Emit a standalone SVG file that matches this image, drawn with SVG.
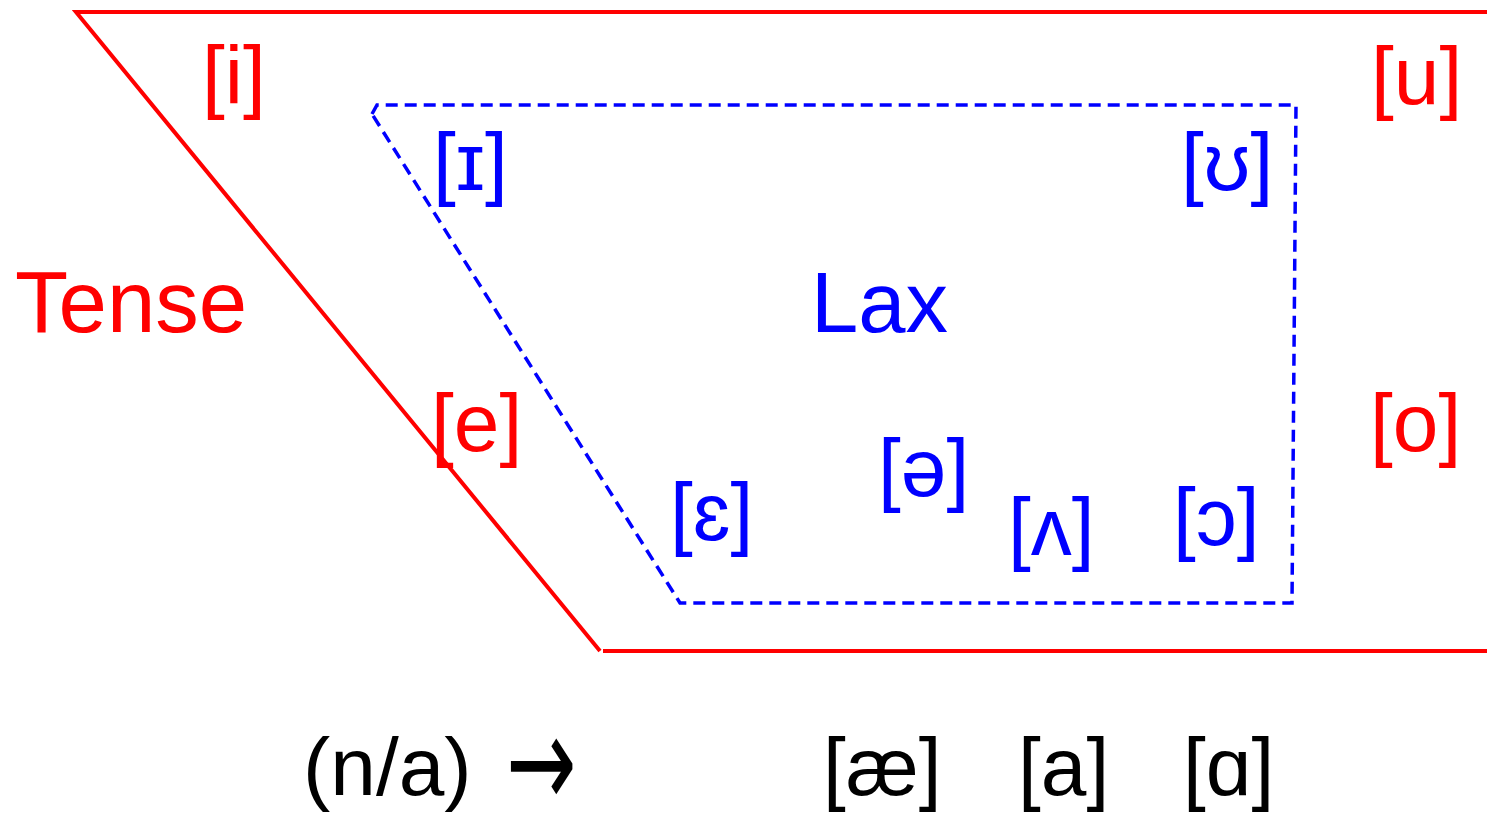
<svg xmlns="http://www.w3.org/2000/svg" width="1487" height="815" viewBox="0 0 1487 815">
<style>
text{font-family:"Liberation Sans",Arial,sans-serif;font-size:82px}
.r{fill:#ff0000}
.b{fill:#0000ff}
.k{fill:#000000}
.arrow{font-family:"DejaVu Sans",sans-serif;font-size:84px}
.tense{fill:none;stroke:#ff0000;stroke-width:4}
.lax{fill:none;stroke:#0000ff;stroke-width:3.5;stroke-dasharray:12 7}
</style>
<rect width="1487" height="815" fill="#ffffff"/>
<g id="connectors">
<polyline class="tense" points="1487,12 76,12 600,651"/>
<line class="tense" x1="603" y1="651" x2="1487" y2="651"/>
<polyline class="lax" points="372,114 377,105 1296,105 1292,603 680,603 372,114"/>
</g>
<g id="tense-label"><text class="r" x="15" y="332" style="font-size:87px">Tense</text></g>
<g id="lax-label"><text class="b" x="811" y="332" style="font-size:85px">Lax</text></g>
<g id="v-i"><text class="r" x="202" y="103">[i]</text></g>
<g id="v-u"><text class="r" x="1371" y="104">[u]</text></g>
<g id="v-e"><text class="r" x="431" y="451">[e]</text></g>
<g id="v-o"><text class="r" x="1370" y="451">[o]</text></g>
<g id="v-I"><text class="b" x="433" y="190">[ɪ]</text></g>
<g id="v-U"><text class="b" x="1181" y="190">[ʊ]</text></g>
<g id="v-schwa"><text class="b" x="878" y="496">[ə]</text></g>
<g id="v-E"><text class="b" x="670" y="540">[ɛ]</text></g>
<g id="v-V"><text class="b" x="1008" y="555">[ʌ]</text></g>
<g id="v-O"><text class="b" x="1173" y="545">[ɔ]</text></g>
<g id="na"><text class="k" x="303" y="795">(n/a)</text><text class="k arrow" transform="translate(506,807) scale(1,1.55)">→</text></g>
<g id="v-ae"><text class="k" x="823" y="795">[æ]</text></g>
<g id="v-a"><text class="k" x="1018" y="795">[a]</text></g>
<g id="v-A"><text class="k" x="1183" y="795">[ɑ]</text></g>
</svg>
